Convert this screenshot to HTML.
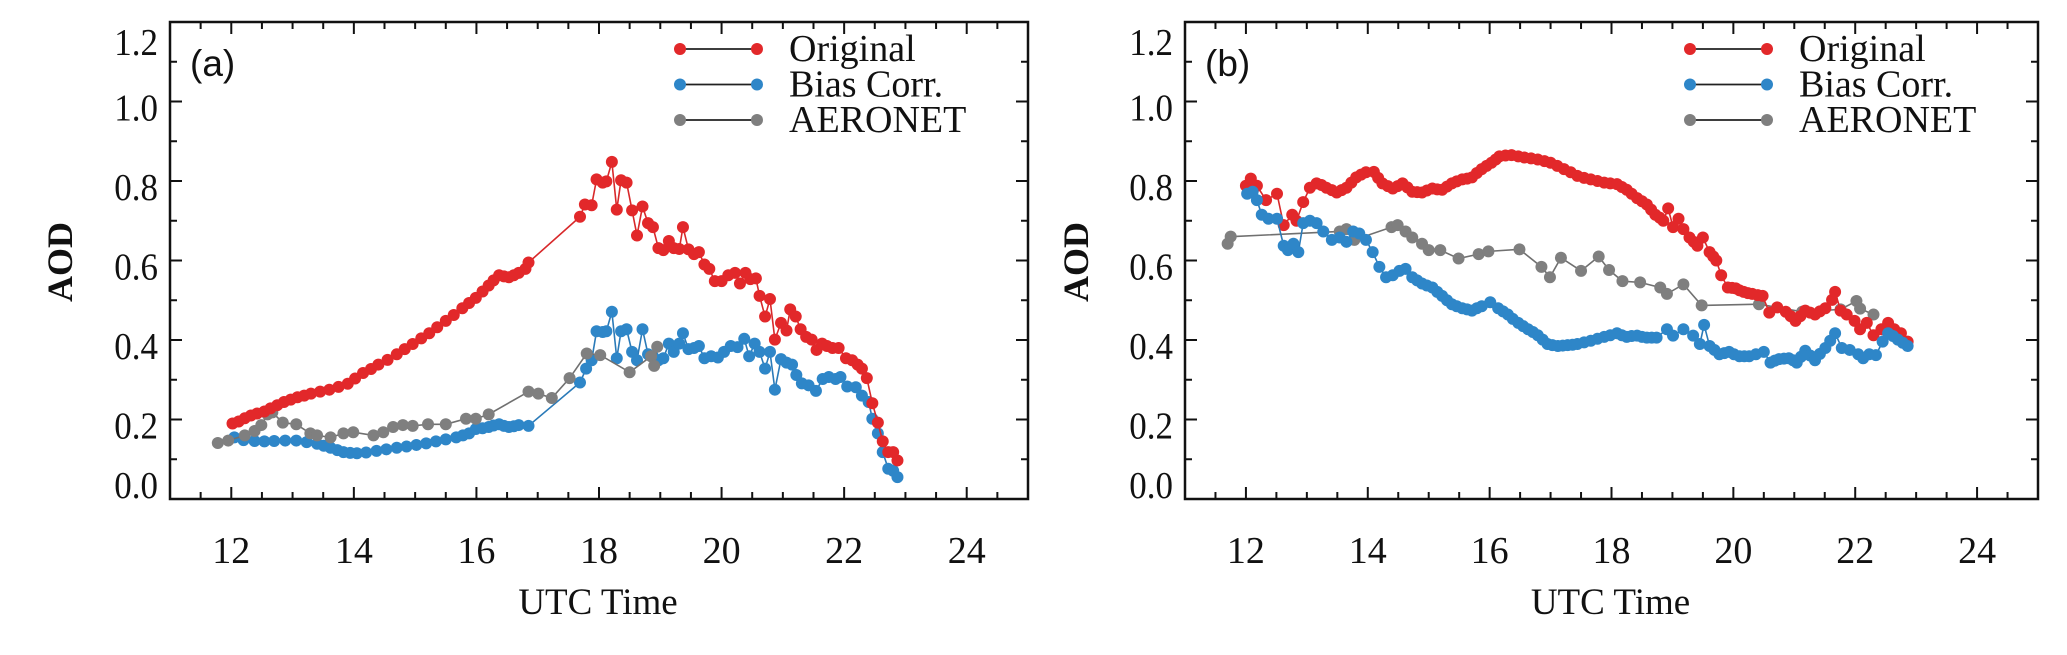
<!DOCTYPE html>
<html><head><meta charset="utf-8"><style>
html,body{margin:0;padding:0;background:#fff;}
svg text{font-family:"Liberation Serif",serif;fill:#111;}
</style></head><body>
<svg id="chart" width="2067" height="650" viewBox="0 0 2067 650" xmlns="http://www.w3.org/2000/svg"></svg>
<script>
// ---- Panel (a) data ----
const aOrigT=[12.02,12.12,12.22,12.32,12.42,12.54,12.64,12.75,12.86,12.97,13.08,13.19,13.3,13.45,13.6,13.75,13.9,14.02,14.15,14.28,14.4,14.55,14.7,14.83,14.96,15.1,15.23,15.36,15.5,15.63,15.77,15.88,15.99,16.1,16.2,16.28,16.37,16.45,16.53,16.61,16.69,16.8,16.85,17.69,17.77,17.88,17.96,18.06,18.12,18.21,18.29,18.36,18.45,18.54,18.62,18.71,18.8,18.88,18.97,19.05,19.14,19.22,19.31,19.37,19.46,19.55,19.63,19.72,19.8,19.89,20.0,20.11,20.22,20.3,20.39,20.47,20.56,20.62,20.71,20.79,20.87,20.97,21.06,21.12,21.21,21.29,21.38,21.47,21.55,21.64,21.72,21.81,21.91,22.03,22.13,22.22,22.29,22.37,22.46,22.55,22.63,22.72,22.8,22.87];
const aOrigV=[0.19,0.195,0.203,0.21,0.215,0.22,0.228,0.236,0.244,0.25,0.256,0.26,0.265,0.27,0.275,0.282,0.29,0.303,0.317,0.327,0.338,0.35,0.364,0.377,0.39,0.404,0.417,0.432,0.448,0.463,0.48,0.493,0.506,0.522,0.537,0.55,0.563,0.56,0.558,0.563,0.569,0.579,0.595,0.71,0.741,0.739,0.804,0.796,0.799,0.848,0.728,0.802,0.796,0.726,0.663,0.736,0.694,0.684,0.631,0.626,0.649,0.631,0.629,0.684,0.628,0.616,0.621,0.59,0.579,0.548,0.548,0.563,0.569,0.542,0.569,0.553,0.555,0.511,0.459,0.503,0.401,0.443,0.424,0.477,0.459,0.427,0.408,0.401,0.375,0.391,0.385,0.38,0.38,0.354,0.349,0.338,0.328,0.304,0.241,0.192,0.145,0.118,0.118,0.097];
const aBiasT=[12.05,12.2,12.38,12.54,12.7,12.88,13.06,13.23,13.4,13.51,13.62,13.73,13.83,13.94,14.05,14.2,14.37,14.53,14.7,14.86,15.02,15.18,15.34,15.5,15.67,15.78,15.88,15.99,16.1,16.2,16.28,16.37,16.45,16.53,16.61,16.69,16.85,17.69,17.79,17.88,17.96,18.06,18.12,18.21,18.29,18.36,18.45,18.54,18.62,18.71,18.8,18.88,18.97,19.05,19.14,19.22,19.31,19.37,19.46,19.55,19.63,19.72,19.83,19.94,20.04,20.15,20.26,20.37,20.45,20.54,20.62,20.71,20.79,20.87,20.97,21.06,21.15,21.22,21.31,21.42,21.54,21.65,21.75,21.86,21.94,22.05,22.19,22.29,22.4,22.46,22.55,22.63,22.72,22.8,22.87];
const aBiasV=[0.155,0.148,0.146,0.145,0.146,0.147,0.147,0.143,0.139,0.134,0.129,0.123,0.118,0.116,0.115,0.117,0.121,0.125,0.129,0.132,0.136,0.14,0.145,0.15,0.155,0.16,0.165,0.176,0.178,0.181,0.185,0.188,0.184,0.181,0.183,0.186,0.184,0.293,0.328,0.349,0.422,0.42,0.422,0.471,0.354,0.422,0.427,0.37,0.349,0.427,0.364,0.359,0.349,0.354,0.391,0.37,0.391,0.417,0.377,0.38,0.385,0.354,0.359,0.356,0.37,0.385,0.382,0.403,0.359,0.391,0.37,0.328,0.37,0.275,0.352,0.343,0.338,0.312,0.291,0.286,0.272,0.302,0.307,0.302,0.307,0.283,0.281,0.26,0.244,0.202,0.165,0.118,0.076,0.071,0.055];
const aAerT=[11.78,11.95,12.22,12.38,12.49,12.59,12.67,12.84,13.06,13.29,13.4,13.62,13.83,13.99,14.32,14.48,14.64,14.8,14.96,15.21,15.5,15.83,15.99,16.2,16.85,17.01,17.23,17.52,17.8,18.02,18.5,18.85,18.9,18.95];
const aAerV=[0.141,0.147,0.16,0.171,0.186,0.213,0.218,0.192,0.188,0.165,0.16,0.155,0.165,0.168,0.16,0.168,0.181,0.186,0.184,0.188,0.188,0.202,0.202,0.213,0.27,0.265,0.254,0.304,0.366,0.362,0.319,0.359,0.335,0.383];
// ---- Panel (b) data ----
const bOrigT=[12.0,12.08,12.18,12.33,12.51,12.62,12.76,12.83,12.94,13.05,13.16,13.24,13.32,13.41,13.49,13.57,13.65,13.73,13.81,13.89,13.97,14.1,14.17,14.24,14.33,14.41,14.49,14.57,14.65,14.73,14.81,14.89,14.97,15.06,15.14,15.22,15.3,15.38,15.46,15.55,15.63,15.71,15.79,15.87,15.95,16.03,16.1,16.16,16.26,16.36,16.47,16.57,16.68,16.79,16.9,17.0,17.11,17.22,17.33,17.44,17.55,17.66,17.77,17.88,17.98,18.09,18.17,18.25,18.33,18.42,18.5,18.58,18.65,18.72,18.79,18.85,18.93,19.01,19.1,19.18,19.28,19.35,19.41,19.5,19.61,19.67,19.72,19.8,19.91,19.98,20.04,20.1,20.17,20.24,20.31,20.4,20.48,20.59,20.72,20.86,20.94,21.02,21.1,21.18,21.26,21.34,21.42,21.51,21.62,21.67,21.76,21.86,21.99,22.08,22.19,22.3,22.43,22.54,22.64,22.75,22.86];
const bOrigV=[0.788,0.806,0.788,0.752,0.768,0.689,0.715,0.7,0.747,0.783,0.794,0.79,0.783,0.777,0.771,0.777,0.783,0.796,0.809,0.816,0.822,0.823,0.808,0.794,0.787,0.781,0.787,0.794,0.784,0.773,0.772,0.771,0.776,0.781,0.779,0.778,0.786,0.794,0.799,0.804,0.806,0.809,0.82,0.83,0.838,0.846,0.854,0.862,0.864,0.865,0.862,0.859,0.857,0.854,0.85,0.846,0.838,0.83,0.822,0.813,0.808,0.804,0.8,0.796,0.794,0.792,0.785,0.778,0.768,0.757,0.749,0.741,0.728,0.715,0.708,0.7,0.731,0.684,0.705,0.679,0.658,0.647,0.637,0.658,0.621,0.61,0.6,0.563,0.532,0.531,0.53,0.525,0.521,0.518,0.516,0.513,0.511,0.469,0.482,0.471,0.46,0.448,0.46,0.474,0.469,0.464,0.472,0.48,0.501,0.521,0.474,0.464,0.448,0.427,0.443,0.412,0.427,0.443,0.427,0.417,0.396];
const bBiasT=[12.02,12.11,12.18,12.26,12.37,12.51,12.62,12.69,12.78,12.86,12.94,13.05,13.16,13.27,13.41,13.54,13.65,13.76,13.86,13.97,14.08,14.19,14.3,14.41,14.52,14.62,14.73,14.81,14.89,14.97,15.06,15.14,15.22,15.3,15.38,15.46,15.55,15.63,15.71,15.79,15.87,16.01,16.14,16.22,16.3,16.38,16.47,16.55,16.63,16.71,16.79,16.87,16.95,17.03,17.12,17.2,17.28,17.36,17.44,17.55,17.66,17.77,17.88,17.98,18.09,18.17,18.25,18.33,18.42,18.5,18.58,18.66,18.74,18.91,19.01,19.18,19.34,19.45,19.52,19.61,19.69,19.77,19.85,19.93,20.01,20.1,20.18,20.26,20.37,20.5,20.61,20.68,20.75,20.83,20.91,20.98,21.04,21.11,21.18,21.26,21.34,21.42,21.51,21.59,21.67,21.78,21.91,22.05,22.13,22.23,22.34,22.45,22.54,22.62,22.7,22.78,22.86];
const bBiasV=[0.768,0.773,0.752,0.715,0.705,0.705,0.637,0.626,0.642,0.621,0.694,0.7,0.694,0.673,0.652,0.658,0.647,0.673,0.668,0.652,0.621,0.584,0.558,0.563,0.574,0.579,0.558,0.55,0.542,0.537,0.532,0.521,0.511,0.5,0.49,0.485,0.48,0.477,0.474,0.48,0.485,0.495,0.48,0.472,0.464,0.453,0.443,0.435,0.427,0.42,0.412,0.401,0.39,0.387,0.385,0.386,0.387,0.388,0.39,0.394,0.398,0.403,0.408,0.412,0.417,0.412,0.408,0.41,0.411,0.408,0.406,0.406,0.406,0.427,0.411,0.427,0.411,0.39,0.438,0.385,0.375,0.364,0.367,0.37,0.364,0.359,0.359,0.359,0.364,0.37,0.343,0.348,0.352,0.353,0.354,0.349,0.343,0.358,0.373,0.361,0.349,0.365,0.38,0.398,0.417,0.38,0.375,0.364,0.354,0.364,0.362,0.396,0.417,0.41,0.401,0.393,0.385];
const bAerT=[11.7,11.75,13.54,13.65,13.78,14.39,14.49,14.62,14.73,14.89,15.0,15.19,15.49,15.82,15.98,16.49,16.85,16.99,17.17,17.5,17.79,17.96,18.18,18.47,18.8,18.91,19.18,19.48,20.42,21.13,21.76,22.02,22.08,22.3];
const bAerV=[0.642,0.66,0.673,0.679,0.652,0.684,0.689,0.673,0.658,0.642,0.626,0.626,0.605,0.616,0.623,0.628,0.584,0.558,0.607,0.574,0.61,0.576,0.548,0.545,0.532,0.516,0.54,0.487,0.49,0.471,0.477,0.498,0.479,0.464];
const xTicks=[12,14,16,18,20,22,24];
const yTicks=[0.0,0.2,0.4,0.6,0.8,1.0,1.2];
const yTickLabels=["0.0","0.2","0.4","0.6","0.8","1.0","1.2"];
const seriesNames=["Original","Bias Corr.","AERONET"];

const NS="http://www.w3.org/2000/svg";
const svg=document.getElementById('chart');
function mk(tag,attrs,parent){const e=document.createElementNS(NS,tag);for(const k in attrs)e.setAttribute(k,attrs[k]);(parent||svg).appendChild(e);return e;}

const COL={red:"#e2282a",blue:"#2e86c8",gray:"#7f7f7f"};
const LINE={red:"#d8282a",blue:"#2a7ab8",gray:"#707070"};
const R_DOT=6;

function panel(cfg){
  const g=mk('g',{});
  
  
  const L=cfg.left,R=cfg.right,T=22,B=499;
  const sx=t=>L+(t-11)/14*(R-L);
  const sy=v=>B-v/1.2*(B-T);
  const tg=mk('g',{stroke:'#111','stroke-width':2},g);
  
  
  for(let i=0;i<=12;i++){const v=i*0.1;const y=sy(v);const len=(i%2===0)?12:7;
    mk('line',{x1:L,x2:L+len,y1:y,y2:y},tg);mk('line',{x1:R,x2:R-len,y1:y,y2:y},tg);}
  for(let i=0;i<=28;i++){const t=11+i*0.5;const x=sx(t);
    const l=(t%2===0)?12:7;
    mk('line',{x1:x,x2:x,y1:B,y2:B-l},tg);mk('line',{x1:x,x2:x,y1:T,y2:T+l},tg);}
  const box=mk('rect',{x:L,y:T,width:R-L,height:B-T,fill:'none',stroke:'#111','stroke-width':2.5},g);
  
  
  yTicks.forEach((v,i)=>{const cy=Math.max(42,Math.min(485,sy(v)+6));
    const t=mk('text',{x:L-12,y:cy+13,'text-anchor':'end','font-size':38,transform:`translate(${L-12},0) scale(0.92,1) translate(${-(L-12)},0)`},g);t.textContent=yTickLabels[i];
    
    });
  xTicks.forEach(v=>{const t=mk('text',{x:sx(v),y:563,'text-anchor':'middle','font-size':38},g);t.textContent=String(v);
    
    });
  const xt=mk('text',{x:(L+R)/2-1,y:614,'text-anchor':'middle','font-size':37},g);xt.textContent='UTC Time';
  
  
  const yt=mk('text',{x:0,y:0,'text-anchor':'middle','font-size':36,'font-weight':'bold',transform:`translate(${cfg.yTitleX},262) rotate(-90)`},g);yt.textContent='AOD';
  
  
  const pl=mk('text',{x:L+20,y:76,'font-size':37,style:'font-family:"Liberation Sans",sans-serif'},g);pl.textContent='('+cfg.tag+')';
  
  
  const series=[[cfg.aerT,cfg.aerV,'gray','aeronet'],[cfg.biasT,cfg.biasV,'blue','bias-corr'],[cfg.origT,cfg.origV,'red','original']];
  const order=cfg.tag==='a'?[1,0,2]:[0,2,1];
  order.forEach(k=>{const [ts,vs,c,nm]=series[k];
    const sg=mk('g',{},g);
    
    
    mk('polyline',{points:ts.map((t,i)=>sx(t)+','+sy(vs[i])).join(' '),fill:'none',stroke:LINE[c],'stroke-width':1.6},sg);
    ts.forEach((t,i)=>{const d=mk('circle',{cx:sx(t),cy:sy(vs[i]),r:R_DOT,fill:COL[c]},sg);
      
      });
  });
  const lg=mk('g',{},g);
  
  
  const cols=['red','blue','gray'];
  seriesNames.forEach((n,i)=>{const y=49+i*35.5;
    const e=mk('g',{},lg);
    
    
    mk('line',{x1:cfg.legX,x2:cfg.legX+77,y1:y,y2:y,stroke:'#222','stroke-width':1.8},e);
    mk('circle',{cx:cfg.legX,cy:y,r:R_DOT,fill:COL[cols[i]]},e);
    mk('circle',{cx:cfg.legX+77,cy:y,r:R_DOT,fill:COL[cols[i]]},e);
    const t=mk('text',{x:cfg.legX+109,y:y+12,'font-size':38},e);t.textContent=n;});
}
panel({tag:'a',left:170,right:1028,yTitleX:72,legX:680,origT:aOrigT,origV:aOrigV,biasT:aBiasT,biasV:aBiasV,aerT:aAerT,aerV:aAerV});
panel({tag:'b',left:1185,right:2038,yTitleX:1088,legX:1690,origT:bOrigT,origV:bOrigV,biasT:bBiasT,biasV:bBiasV,aerT:bAerT,aerV:bAerV});
</script>
</body></html>
